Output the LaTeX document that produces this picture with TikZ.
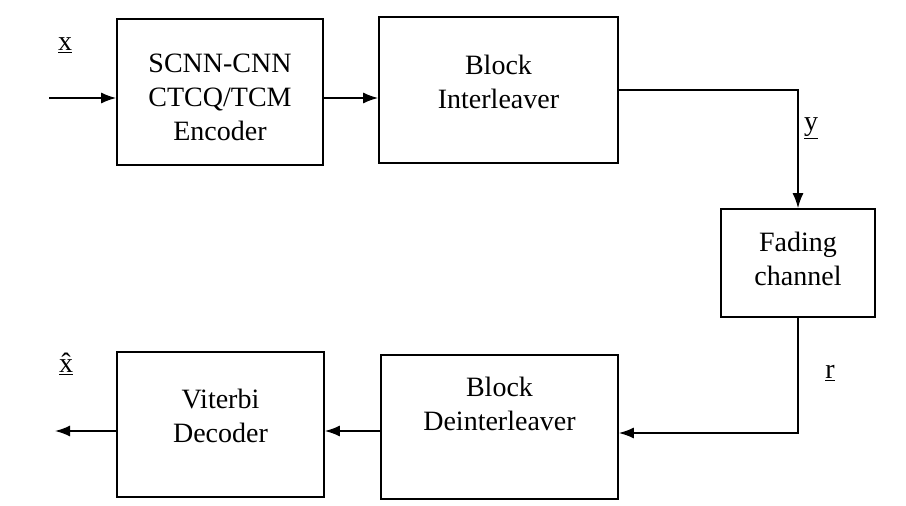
\documentclass[tikz,border=0pt]{standalone}
\usepackage{fontspec}
\setmainfont{Liberation Serif}
\usetikzlibrary{arrows.meta}
\tikzset{
	blk/.style={draw, line width=1.6pt, inner sep=0pt},
	txt/.style={font=\fontsize{28}{34}\selectfont, align=center, inner sep=0pt},
	sig/.style={font=\fontsize{28}{34}\selectfont, inner sep=0pt},
	arr/.style={line width=1.6pt, -{Latex[length=15pt,width=11pt]}},
}
\begin{document}
\begin{tikzpicture}[x=1pt,y=-1pt]
	\useasboundingbox (0,0) rectangle (906,506);
	% transmitter side
	\node[blk, minimum width=206pt, minimum height=146pt,
		label={[txt,yshift=-5pt]center:{SCNN-CNN\\CTCQ/TCM\\Encoder}}] (enc) at (220,92) {};
	\node[blk, minimum width=239pt, minimum height=146pt,
		label={[txt,yshift=8pt]center:{Block\\Interleaver}}] (intl) at (498.5,90) {};
	\node[blk, minimum width=154pt, minimum height=108pt,
		label={[txt,yshift=4pt]center:{Fading\\channel}}] (fade) at (798,263) {};
	% receiver side
	\node[blk, minimum width=237pt, minimum height=144pt,
		label={[txt,yshift=23pt]center:{Block\\Deinterleaver}}] (deint) at (499.5,427) {};
	\node[blk, minimum width=207pt, minimum height=145pt,
		label={[txt,yshift=9pt]center:{Viterbi\\Decoder}}] (dec) at (220.5,424.5) {};
	% signal names
	\node[sig] (lx) at (65,45) {\underline{x}};
	\node[sig] (ly) at (811,128) {\underline{y}};
	\node[sig] (lr) at (830,373) {\underline{r}};
	\node[sig] (lxhat) at (66,364) {\underline{\^{x}}};
	\coordinate (xin) at (49,98);
	\coordinate (xout) at (55,431);
	% connectors
	\draw[arr] (xin) -- (xin -| enc.west);
	\draw[arr] ([yshift=-6pt]enc.east) -- ([yshift=-6pt]enc.east -| intl.west);
	\draw[arr] (intl.east) -| (fade.north);
	\draw[arr] (fade.south) |- ([yshift=-6pt]deint.east);
	\draw[arr] ([yshift=-4pt]deint.west) -- ([yshift=-4pt]deint.west -| dec.east);
	\draw[arr] (xout -| dec.west) -- (xout);
\end{tikzpicture}
\end{document}
